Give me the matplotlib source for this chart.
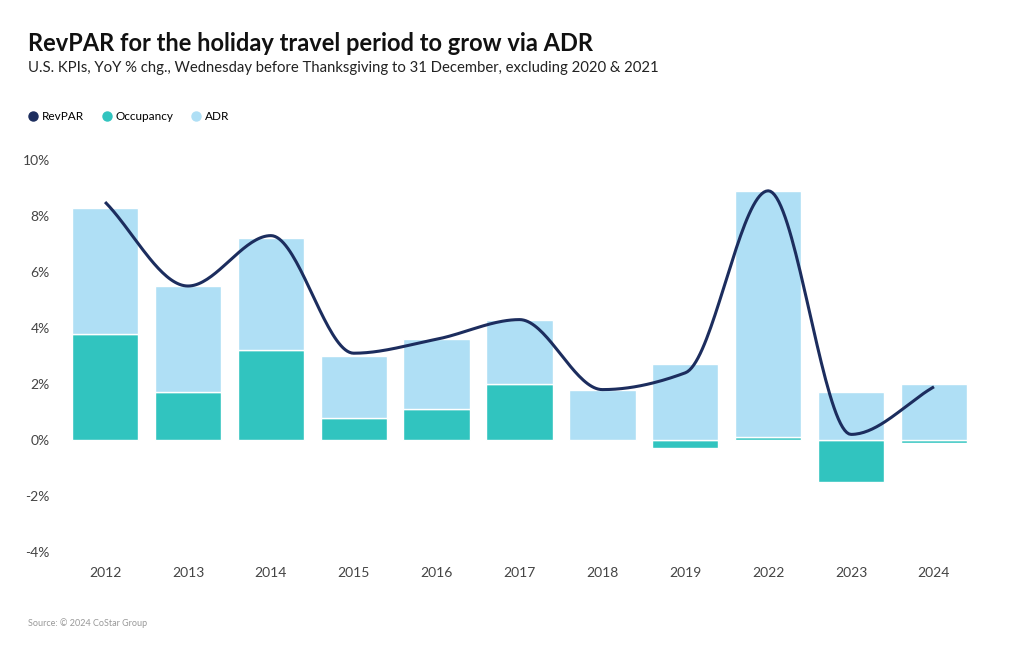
import numpy as np
import matplotlib
matplotlib.use("Agg")
import matplotlib.pyplot as plt
from matplotlib.lines import Line2D

years = ["2012", "2013", "2014", "2015", "2016", "2017", "2018", "2019", "2022", "2023", "2024"]
occupancy = [3.8, 1.7, 3.2, 0.8, 1.1, 2.0, 0.0, -0.3, 0.1, -1.5, -0.1]
adr = [4.5, 3.8, 4.0, 2.2, 2.5, 2.3, 1.8, 2.7, 8.8, 1.7, 2.0]
revpar = [8.5, 5.5, 7.3, 3.1, 3.6, 4.3, 1.8, 2.4, 8.9, 0.2, 1.9]
yticks = [-4, -2, 0, 2, 4, 6, 8, 10]

NAVY = "#1c2d5e"
TEAL = "#31c4bf"
LIGHT = "#afdff5"
FONT = ["Lato", "DejaVu Sans"]
plt.rcParams["font.family"] = FONT


def monotone_curve(x, y, n=40):
    x = np.asarray(x, float)
    y = np.asarray(y, float)
    h = np.diff(x)
    d = np.diff(y) / h
    m = np.zeros_like(y)
    m[0] = d[0]
    m[-1] = d[-1]
    for i in range(1, len(y) - 1):
        if d[i - 1] * d[i] <= 0:
            m[i] = 0
        else:
            w1 = 2 * h[i] + h[i - 1]
            w2 = h[i] + 2 * h[i - 1]
            m[i] = (w1 + w2) / (w1 / d[i - 1] + w2 / d[i])
    xs, ys = [], []
    for i in range(len(x) - 1):
        t = np.linspace(0, 1, n)
        h00 = 2 * t**3 - 3 * t**2 + 1
        h10 = t**3 - 2 * t**2 + t
        h01 = -2 * t**3 + 3 * t**2
        h11 = t**3 - t**2
        xs.append(x[i] + t * h[i])
        ys.append(h00 * y[i] + h10 * h[i] * m[i] + h01 * y[i + 1] + h11 * h[i] * m[i + 1])
    return np.concatenate(xs), np.concatenate(ys)


fig = plt.figure(figsize=(10.2, 6.5), dpi=100)
ax = fig.add_axes([0.0624, 0.1508, 0.8939, 0.603])

x = np.arange(len(years))
occ = np.array(occupancy)
adr_a = np.array(adr)
adr_bottom = np.where(occ > 0, occ, 0)

ax.bar(x, occ, width=0.8, color=TEAL, edgecolor="white", linewidth=1, zorder=2)
ax.bar(x, adr_a, bottom=adr_bottom, width=0.8, color=LIGHT, edgecolor="white", linewidth=1, zorder=2)

cx, cy = monotone_curve(x, revpar)
ax.plot(cx, cy, color=NAVY, linewidth=2.2, zorder=3, solid_capstyle="butt")

ax.set_xlim(-0.5, len(years) - 0.5)
ax.set_ylim(-4, 10)
ax.set_yticks(yticks)
ax.set_yticklabels([f"{v}%" for v in yticks])
ax.set_xticks(x)
ax.set_xticklabels(years)
ax.tick_params(length=0, labelsize=10, colors="#444444")
ax.tick_params(axis="x", pad=11)
ax.tick_params(axis="y", pad=10)
for s in ax.spines.values():
    s.set_visible(False)

fig.text(0.027, 0.933, "RevPAR for the holiday travel period to grow via ADR",
         fontsize=17, fontweight="bold", color="#111111", va="center")
fig.text(0.027, 0.895, "U.S. KPIs, YoY % chg., Wednesday before Thanksgiving to 31 December, excluding 2020 & 2021",
         fontsize=10.7, color="#222222", va="center")

handles = [Line2D([], [], marker="o", linestyle="", markersize=6.5, color=c) for c in (NAVY, TEAL, LIGHT)]
fig.legend(handles, ["RevPAR", "Occupancy", "ADR"], loc="center left", bbox_to_anchor=(0.014, 0.82),
           ncol=3, frameon=False, fontsize=8.5, handletextpad=0.1, columnspacing=1.3, handlelength=1.3)

fig.text(0.027, 0.042, "Source: © 2024 CoStar Group", fontsize=6.5, color="#999999", va="center")

fig.savefig("out.png", dpi=100, facecolor="white")
